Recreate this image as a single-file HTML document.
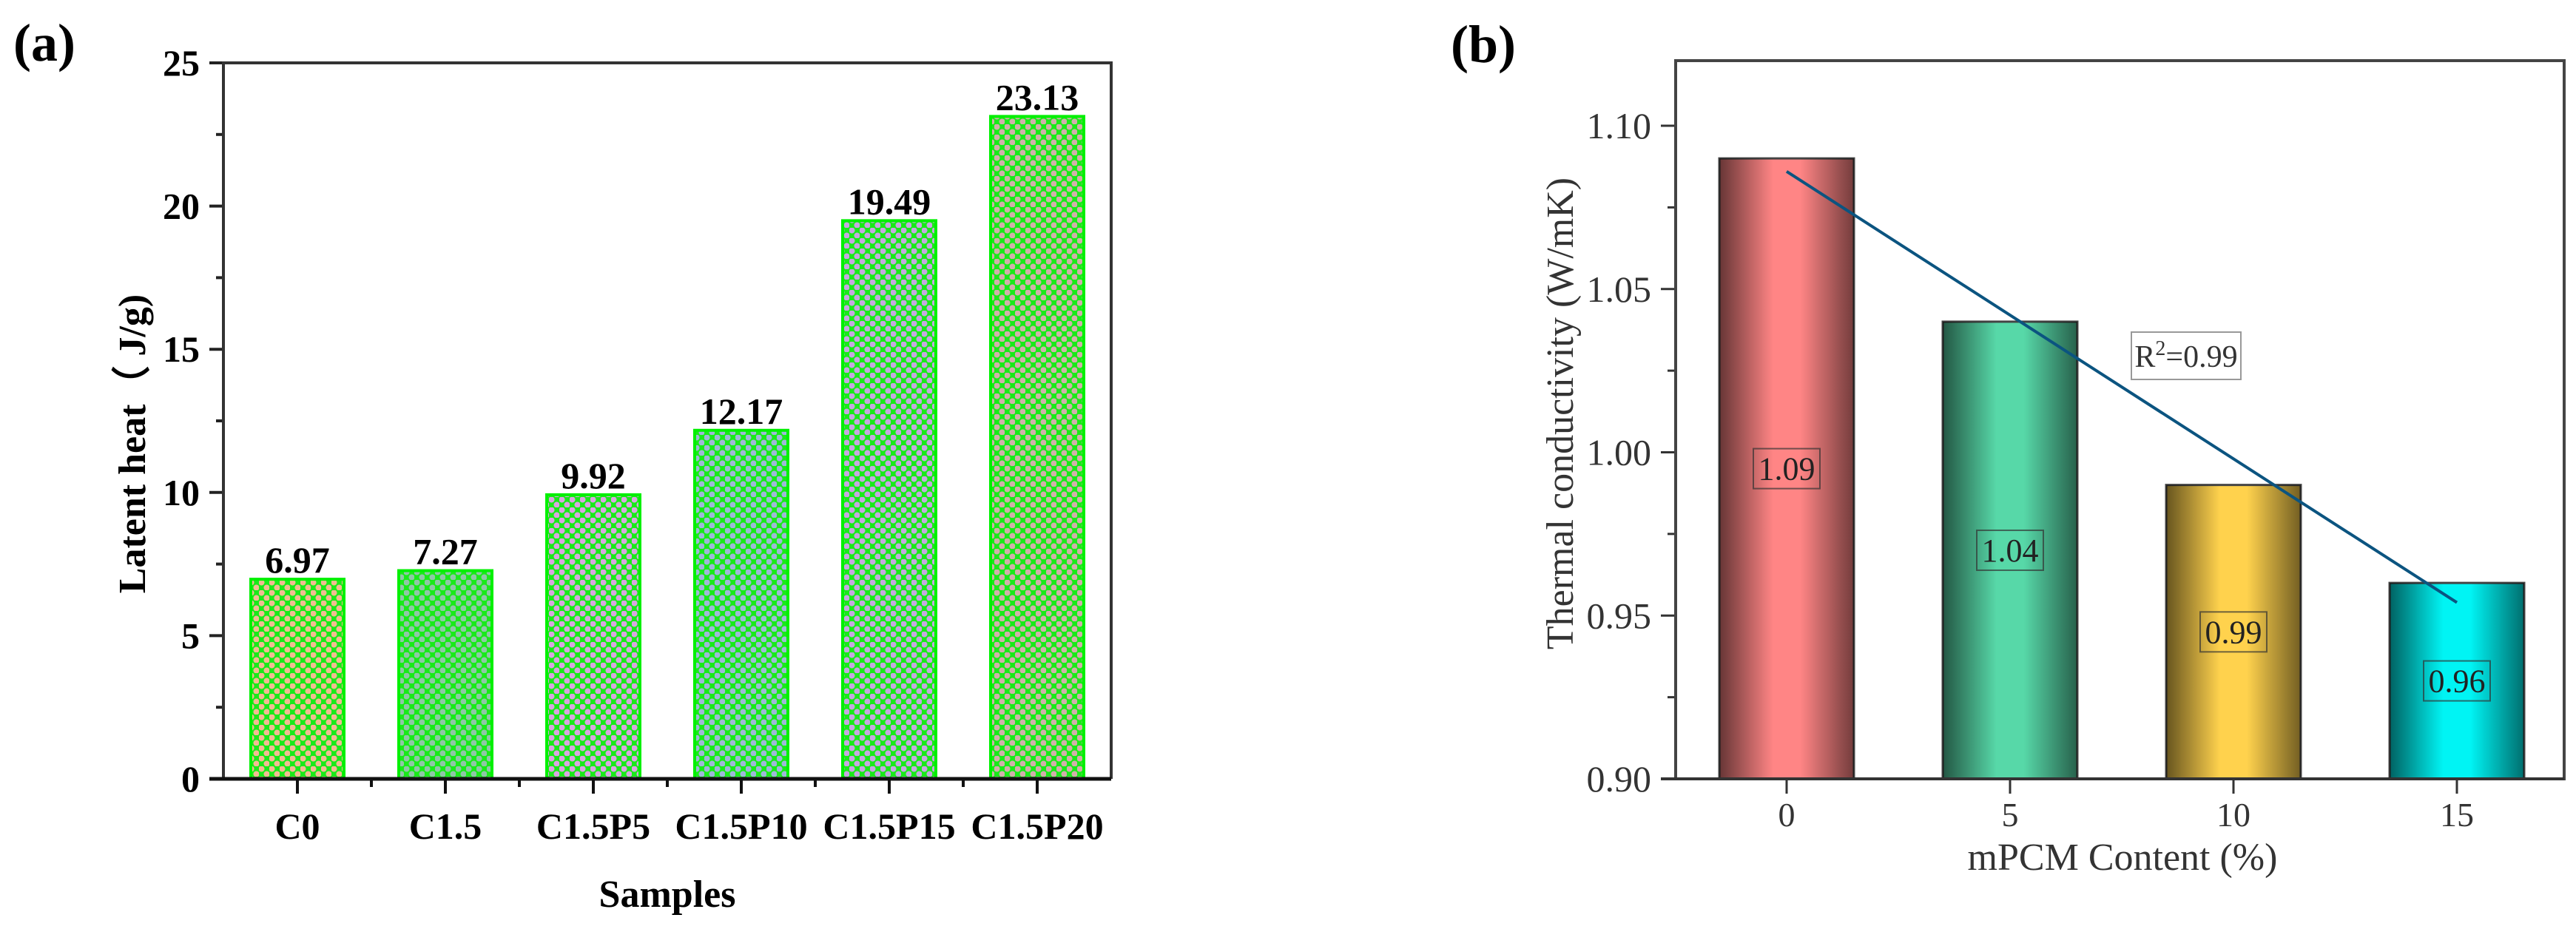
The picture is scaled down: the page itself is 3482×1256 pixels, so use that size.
<!DOCTYPE html>
<html><head><meta charset="utf-8">
<style>
html,body{margin:0;padding:0;background:#fff;}
svg{display:block;}
text{font-family:"Liberation Serif",serif;}
</style></head>
<body>
<svg id="fig" width="3482" height="1256" viewBox="0 0 3482 1256" xmlns="http://www.w3.org/2000/svg">
<defs>
  <linearGradient id="shade" x1="0" x2="1" y1="0" y2="0">
    <stop offset="0" stop-color="#000" stop-opacity="0.6"/>
    <stop offset="0.4" stop-color="#000" stop-opacity="0"/>
    <stop offset="0.6" stop-color="#000" stop-opacity="0"/>
    <stop offset="1" stop-color="#000" stop-opacity="0.55"/>
  </linearGradient>
</defs>
<g id="chartA"></g>
<g id="chartB"></g>
</svg>
<script>
// ---- Chart (a) data ----
const catsA = ["C0","C1.5","C1.5P5","C1.5P10","C1.5P15","C1.5P20"];
const valsA = [6.97,7.27,9.92,12.17,19.49,23.13];
const labelsA = ["6.97","7.27","9.92","12.17","19.49","23.13"];
const ticksA = [0,5,10,15,20,25];
const dotColorsA = ["#f2bc92","#8fc7a6","#d9a6e0","#9fb8d8","#c6a8e0","#d2b0aa"];
// ---- Chart (b) data ----
const catsB = [0,5,10,15];
const valsB = [1.09,1.04,0.99,0.96];
const labelsB = ["1.09","1.04","0.99","0.96"];
const ticksB = [0.90,0.95,1.00,1.05,1.10];
const tickLabelsB = ["0.90","0.95","1.00","1.05","1.10"];
const colorsB = ["#ff8585","#57d8a8","#ffd24d","#00f4f4"];

const NS = "http://www.w3.org/2000/svg";
const SERIF = '"Liberation Serif","Noto Serif CJK SC",serif';
function mk(tag, attrs, parent, txt){
  const e = document.createElementNS(NS, tag);
  for (const k in attrs) e.setAttribute(k, attrs[k]);
  if (tag === "text") e.setAttribute("font-family", SERIF);
  if (txt !== undefined) e.textContent = txt;
  parent.appendChild(e);
  return e;
}
const defs = document.querySelector("defs");

// ================= Chart (a) =================
const gA = document.getElementById("chartA");
const aL = 302, aR = 1502, aT = 85, aB = 1053, aMax = 25;
const yA = v => aB - v / aMax * (aB - aT);
const bandA = (aR - aL) / catsA.length;
const xA = i => aL + bandA * (i + 0.5);
const bwA = 126;

let t = mk("text", {x: 18, y: 82, "font-size": 72, "font-weight": "bold"}, gA, "(a)");



valsA.forEach((v, i) => {
  const p = mk("pattern", {id: "pat" + i, width: 14, height: 14, patternUnits: "userSpaceOnUse"}, defs);
  mk("rect", {width: 14, height: 14, fill: "#19ea19"}, p);
  mk("circle", {cx: 3.5, cy: 3.5, r: 4, fill: dotColorsA[i]}, p);
  mk("circle", {cx: 10.5, cy: 10.5, r: 4, fill: dotColorsA[i]}, p);
  const r = mk("rect", {x: xA(i) - bwA / 2, y: yA(v), width: bwA, height: aB - yA(v), fill: "url(#pat" + i + ")", stroke: "#00f000", "stroke-width": 4}, gA);
  
  
  const l = mk("text", {x: xA(i), y: yA(v) - 9, "font-size": 50, "font-weight": "bold", "text-anchor": "middle"}, gA, labelsA[i]);
  
  
  const xl = mk("text", {x: xA(i), y: 1134, "font-size": 50, "font-weight": "bold", "text-anchor": "middle"}, gA, catsA[i]);
  
  
  const tk = mk("line", {x1: xA(i), x2: xA(i), y1: aB, y2: aB + 20, stroke: "#111", "stroke-width": 4}, gA);
  
  
  if (i > 0) {
    const mt = mk("line", {x1: aL + bandA * i, x2: aL + bandA * i, y1: aB, y2: aB + 11, stroke: "#111", "stroke-width": 4}, gA);
    
    
  }
});
ticksA.forEach((v, i) => {
  const tk = mk("line", {x1: aL - 19, x2: aL, y1: yA(v), y2: yA(v), stroke: "#222", "stroke-width": 4}, gA);
  
  
  const tl = mk("text", {x: 270, y: yA(v) + 17, "font-size": 50, "font-weight": "bold", "text-anchor": "end"}, gA, String(v));
  
  
  if (i < ticksA.length - 1) {
    const m = mk("line", {x1: aL - 10, x2: aL, y1: yA(v + 2.5), y2: yA(v + 2.5), stroke: "#222", "stroke-width": 4}, gA);
    
    
  }
});
let fr = mk("path", {d: `M${aL},${aB} L${aL},${aT} L${aR},${aT} L${aR},${aB}`, fill: "none", stroke: "#333", "stroke-width": 4}, gA);


let xax = mk("line", {x1: aL - 19, x2: aR, y1: aB, y2: aB, stroke: "#111", "stroke-width": 5}, gA);


t = mk("text", {x: (aL + aR) / 2, y: 1226, "font-size": 52, "font-weight": "bold", "text-anchor": "middle"}, gA, "Samples");


t = mk("text", {x: 0, y: 0, "font-size": 52, "font-weight": "bold", "text-anchor": "middle", transform: "translate(196,600) rotate(-90)"}, gA, "Latent heat\uFF08 J/g)");



// ================= Chart (b) =================
const gB = document.getElementById("chartB");
const bL = 2265, bR = 3466, bT = 82, bB = 1053, bMin = 0.90;
const pxPerUnit = (bB - 170) / 0.20;
const yB = v => bB - (v - bMin) * pxPerUnit;
const x0 = 2415, stepPx = 302 / 5;
const xB = c => x0 + c * stepPx;
const bwB = 182;

t = mk("text", {x: 1961, y: 84, "font-size": 72, "font-weight": "bold"}, gB, "(b)");



valsB.forEach((v, i) => {
  const c = catsB[i];
  const r = mk("rect", {x: xB(c) - bwB / 2, y: yB(v), width: bwB, height: bB - yB(v), fill: colorsB[i], stroke: "#444", "stroke-width": 3}, gB);
  
  
  const s = mk("rect", {x: xB(c) - bwB / 2, y: yB(v), width: bwB, height: bB - yB(v), fill: "url(#shade)"}, gB);
  
  
  const my = (yB(v) + bB) / 2;
  const bx = mk("rect", {x: xB(c) - 45, y: my - 27, width: 90, height: 54, fill: "none", stroke: "#333", "stroke-width": 2, opacity: 0.7}, gB);
  
  
  const l = mk("text", {x: xB(c), y: my + 15, "font-size": 44, "text-anchor": "middle", fill: "#222"}, gB, labelsB[i]);
  
  
  const tk = mk("line", {x1: xB(c), x2: xB(c), y1: bB, y2: bB + 20, stroke: "#333", "stroke-width": 3}, gB);
  
  
  const xl = mk("text", {x: xB(c), y: 1117, "font-size": 46, "text-anchor": "middle", fill: "#333"}, gB, String(c));
  
  
});
const bMaxVal = bMin + (bB - bT) / pxPerUnit;
ticksB.forEach((v, i) => {
  const tk = mk("line", {x1: bL - 20, x2: bL, y1: yB(v), y2: yB(v), stroke: "#333", "stroke-width": 3}, gB);
  
  
  const tl = mk("text", {x: 2232, y: yB(v) + 17, "font-size": 50, "text-anchor": "end", fill: "#333"}, gB, tickLabelsB[i]);
  
  
  if (v + 0.025 < bMaxVal) {
    const m = mk("line", {x1: bL - 11, x2: bL, y1: yB(v + 0.025), y2: yB(v + 0.025), stroke: "#333", "stroke-width": 3}, gB);
    
    
  }
});
fr = mk("rect", {x: bL, y: bT, width: bR - bL, height: bB - bT, fill: "none", stroke: "#444", "stroke-width": 4}, gB);


xax = mk("line", {x1: bL - 20, x2: bR, y1: bB, y2: bB, stroke: "#333", "stroke-width": 4}, gB);



const n = catsB.length;
const mx = catsB.reduce((a, b) => a + b, 0) / n;
const myv = valsB.reduce((a, b) => a + b, 0) / n;
let sxy = 0, sxx = 0;
catsB.forEach((c, i) => { sxy += (c - mx) * (valsB[i] - myv); sxx += (c - mx) * (c - mx); });
const slope = sxy / sxx, icpt = myv - slope * mx;
const c0 = catsB[0], c1 = catsB[n - 1];
const fit = mk("line", {x1: xB(c0), y1: yB(icpt + slope * c0), x2: xB(c1), y2: yB(icpt + slope * c1), stroke: "#0b5480", "stroke-width": 4}, gB);



const rb = mk("rect", {x: 2881, y: 449, width: 148, height: 64, fill: "#fff", stroke: "#999", "stroke-width": 2}, gB);


const rt = mk("text", {x: 2955, y: 496, "font-size": 42, "text-anchor": "middle", fill: "#333"}, gB);


mk("tspan", {}, rt, "R");
mk("tspan", {dy: -16, "font-size": 28}, rt, "2");
mk("tspan", {dy: 16}, rt, "=0.99");

t = mk("text", {x: 2869, y: 1176, "font-size": 52, "text-anchor": "middle", fill: "#333"}, gB, "mPCM Content (%)");


t = mk("text", {x: 0, y: 0, "font-size": 52, "text-anchor": "middle", fill: "#333", transform: "translate(2126,559) rotate(-90)"}, gB, "Thermal conductivity (W/mK)");


</script>
</body></html>
